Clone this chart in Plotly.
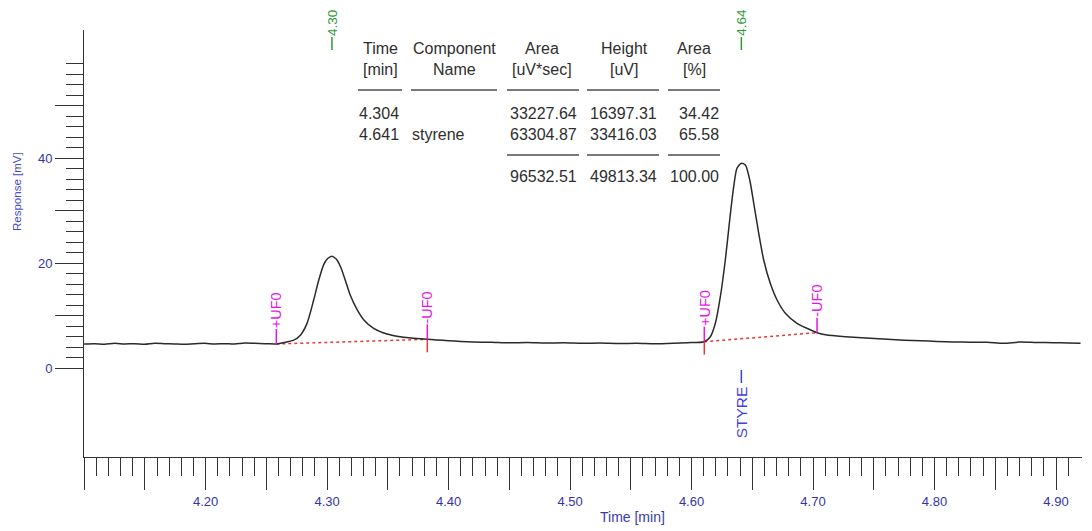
import numpy as np
import plotly.graph_objects as go

# ---- chromatogram trace: retention time [min] vs detector response [mV] ----
time_min = [
    4.1000, 4.1086, 4.1169, 4.1251, 4.1333, 4.1416, 4.1498, 4.1580, 4.1663, 4.1745,
    4.1827, 4.1909, 4.1992, 4.2074, 4.2156, 4.2239, 4.2321, 4.2403, 4.2486, 4.2568,
    4.2582, 4.2725, 4.2780, 4.2834, 4.2889, 4.2931, 4.2972, 4.3005,
    4.3077, 4.3114, 4.3150, 4.3191, 4.3246, 4.3301, 4.3383, 4.3493, 4.3630, 4.3825,
    4.3900, 4.4000, 4.4100, 4.4200, 4.4350, 4.4500, 4.4650, 4.4800, 4.4950, 4.5100,
    4.5250, 4.5400, 4.5550, 4.5700, 4.5850, 4.5963,
    4.6105, 4.6155, 4.6196, 4.6237, 4.6278, 4.6314, 4.6347, 4.6374,
    4.6443, 4.6479, 4.6512, 4.6553, 4.6594, 4.6648, 4.6704, 4.6772, 4.6868, 4.6950,
    4.7033, 4.7115, 4.7197, 4.7333, 4.7470, 4.7613, 4.7750, 4.7885, 4.8020, 4.8156,
    4.8300, 4.8436, 4.8568, 4.8708, 4.8840, 4.8979, 4.9100, 4.9202,
]
response_mv = [
    4.57, 4.63, 4.51, 4.70, 4.57, 4.63, 4.51, 4.70, 4.63, 4.57,
    4.51, 4.63, 4.70, 4.57, 4.63, 4.57, 4.76, 4.70, 4.63, 4.57,
    4.57, 5.30, 6.25, 8.45, 12.90, 16.70, 19.70, 20.85,
    20.70, 19.10, 16.70, 13.85, 11.15, 9.20, 7.56, 6.48, 5.85, 5.47,
    5.35, 5.20, 5.05, 4.95, 4.90, 4.80, 4.85, 4.75, 4.80, 4.70,
    4.75, 4.65, 4.70, 4.60, 4.70, 4.82,
    5.01, 5.96, 8.51, 13.58, 20.57, 28.19, 34.53, 38.04,
    38.67, 35.81, 31.37, 25.66, 20.57, 16.13, 12.95, 10.42, 8.51, 7.56,
    6.72, 6.29, 6.10, 5.85, 5.65, 5.47, 5.30, 5.20, 5.05, 4.95,
    4.92, 4.90, 4.70, 4.95, 4.85, 4.82, 4.75, 4.70,
]

# ---- integration events (peak start / end) ----
event_time = [4.2582, 4.3825, 4.6105, 4.7033]
event_mv = [4.57, 5.47, 5.01, 6.72]
event_label = ["+UF0", "-UF0", "+UF0", "-UF0"]
event_drop = [False, True, True, False]

# ---- peak report ----
peak_time = [4.304, 4.641]
peak_name = ["", "styrene"]
peak_area = [33227.64, 63304.87]      # uV*sec
peak_height = [16397.31, 33416.03]    # uV
peak_area_pct = [34.42, 65.58]        # %

# apex of each peak = integration baseline at the apex + reported height
apex_mv = []
for i, t in enumerate(peak_time):
    t0, t1 = event_time[2 * i], event_time[2 * i + 1]
    b0, b1 = event_mv[2 * i], event_mv[2 * i + 1]
    apex_mv.append(float(np.interp(t, [t0, t1], [b0, b1])) + peak_height[i] / 1000.0)

trace_t = np.array(time_min + peak_time)
trace_v = np.array(response_mv + apex_mv)
order = np.argsort(trace_t)
trace_t, trace_v = trace_t[order], trace_v[order]

# ---- page geometry ----
FIG_W, FIG_H = 1092, 531
L, R, T, B = 84, 10, 30, 74
W, H = FIG_W - L - R, FIG_H - T - B
X0, PX_PER_MIN = 4.0999, 1215.0
X1 = 4.10 + W / PX_PER_MIN
PX_PER_MV = 5.25
Y1 = 64.38
Y0 = Y1 - H / PX_PER_MV
MV_PER_PX = 1.0 / PX_PER_MV


def px_x(p):
    return (p - L) / W


def px_y(p):
    return 1 - (p - T) / H


FONT = "Liberation Sans, Arial, sans-serif"
AXIS_C = "#333333"
TICK_BLUE = "#3434a8"
MAGENTA = "#e614e6"
RED = "#e23a3a"
GREEN = "#2f9a3a"
BLUE = "#3c3cf0"
TABLE_C = "#2e2e2e"

fig = go.Figure()

# integration baselines
for i in range(len(peak_time)):
    fig.add_trace(go.Scatter(
        x=[event_time[2 * i], event_time[2 * i + 1]],
        y=[event_mv[2 * i], event_mv[2 * i + 1]],
        mode="lines", line=dict(color=RED, width=1.5, dash="dot"),
        hoverinfo="skip"))

# detector signal
fig.add_trace(go.Scatter(
    x=trace_t, y=trace_v, mode="lines",
    line=dict(color="#2a2a2a", width=1.5, shape="spline", smoothing=0.7)))

shapes = []
annotations = []

# integration event marks
up_len = 15 * MV_PER_PX
down_len = 13 * MV_PER_PX
for t, v, lab, drop in zip(event_time, event_mv, event_label, event_drop):
    shapes.append(dict(type="line", xref="x", yref="y", x0=t, x1=t, y0=v, y1=v + up_len,
                       line=dict(color=MAGENTA, width=1.5)))
    if drop:
        shapes.append(dict(type="line", xref="x", yref="y", x0=t, x1=t, y0=v, y1=v - down_len,
                           line=dict(color=RED, width=1.5)))
    annotations.append(dict(x=t, y=v + up_len, xref="x", yref="y", text=lab, textangle=-90,
                            showarrow=False, xanchor="center", yanchor="bottom",
                            borderpad=0, font=dict(family=FONT, size=14.5, color=MAGENTA)))

# retention time marks above the peaks
for t in peak_time:
    shapes.append(dict(type="line", xref="x", yref="paper", x0=t, x1=t,
                       y0=px_y(50), y1=px_y(37), line=dict(color=GREEN, width=1.5)))
    annotations.append(dict(x=t, y=px_y(37), xref="x", yref="paper", text=f"{t:.2f}",
                            textangle=-90, showarrow=False, xanchor="center", yanchor="bottom",
                            borderpad=0, font=dict(family=FONT, size=13.5, color=GREEN)))

# component name marks below the peaks
for t, name in zip(peak_time, peak_name):
    if not name:
        continue
    shapes.append(dict(type="line", xref="x", yref="y", x0=t, x1=t,
                       y0=-2 * MV_PER_PX, y1=-15 * MV_PER_PX, line=dict(color=BLUE, width=1.5)))
    annotations.append(dict(x=t, y=-17 * MV_PER_PX, xref="x", yref="y",
                            text=name.upper()[:5], textangle=-90, showarrow=False,
                            xanchor="center", yanchor="top", borderpad=0,
                            font=dict(family=FONT, size=15.5, color=BLUE)))

# ---- peak report table ----
TF = dict(family=FONT, size=16, color=TABLE_C)
headers = [("Time", "[min]", 380), ("Component", "Name", 454), ("Area", "[uV*sec]", 542),
           ("Height", "[uV]", 624), ("Area", "[%]", 694)]
for top, bottom, cx in headers:
    for txt, cy in ((top, 48.5), (bottom, 69.5)):
        annotations.append(dict(x=px_x(cx), y=px_y(cy), xref="paper", yref="paper", text=txt,
                                showarrow=False, xanchor="center", yanchor="middle",
                                font=TF))

rule_cols = [(358, 402), (411, 497), (507, 579), (587, 659), (668, 720)]
for x0, x1 in rule_cols:
    shapes.append(dict(type="line", xref="paper", yref="paper", x0=px_x(x0), x1=px_x(x1),
                       y0=px_y(90), y1=px_y(90), line=dict(color="#7a7a7a", width=2)))
for x0, x1 in rule_cols[2:]:
    shapes.append(dict(type="line", xref="paper", yref="paper", x0=px_x(x0), x1=px_x(x1),
                       y0=px_y(155), y1=px_y(155), line=dict(color="#7a7a7a", width=2)))

row_y = [113.5, 134.5]
for i in range(len(peak_time)):
    cy = px_y(row_y[i])
    annotations.append(dict(x=px_x(357), y=cy, xref="paper", yref="paper",
                            text=f"{peak_time[i]:.3f}", showarrow=False,
                            xanchor="left", yanchor="middle", font=TF))
    if peak_name[i]:
        annotations.append(dict(x=px_x(410), y=cy, xref="paper", yref="paper",
                                text=peak_name[i], showarrow=False,
                                xanchor="left", yanchor="middle", font=TF))
    for val, rx in ((peak_area[i], 579), (peak_height[i], 659), (peak_area_pct[i], 721)):
        annotations.append(dict(x=px_x(rx), y=cy, xref="paper", yref="paper",
                                text=f"{val:.2f}", showarrow=False,
                                xanchor="right", yanchor="middle", font=TF))

totals = [sum(peak_area), sum(peak_height), sum(peak_area_pct)]
for val, rx in zip(totals, (579, 659, 721)):
    annotations.append(dict(x=px_x(rx), y=px_y(176.5), xref="paper", yref="paper",
                            text=f"{val:.2f}", showarrow=False,
                            xanchor="right", yanchor="middle", font=TF))

# axis titles
annotations.append(dict(x=px_x(632), y=px_y(517), xref="paper", yref="paper",
                        text="Time [min]", showarrow=False, xanchor="center", yanchor="middle",
                        font=dict(family=FONT, size=14, color="#3a3aae")))
annotations.append(dict(x=px_x(17), y=px_y(192), xref="paper", yref="paper",
                        text="Response [mV]", textangle=-90, showarrow=False,
                        xanchor="center", yanchor="middle",
                        font=dict(family=FONT, size=11.5, color="#4a4acc")))

# ---- axes ----
x_major = [round(4.10 + 0.05 * i, 2) for i in range(17)]
x_text = [f"{v:.2f}" if (i % 2 == 0 and i > 0) else "" for i, v in enumerate(x_major)]
x_minor = [round(4.10 + 0.01 * i, 2) for i in range(82) if i % 5 != 0]

y_major = [0, 10, 20, 30, 40, 50]
y_text = ["0", "", "20", "", "40", ""]
y_minor = [v for v in range(2, 59, 2) if v % 10 != 0]

fig.update_layout(
    width=FIG_W, height=FIG_H,
    margin=dict(l=L, r=R, t=T, b=B, pad=0),
    paper_bgcolor="white", plot_bgcolor="white",
    showlegend=False,
    shapes=shapes, annotations=annotations,
    xaxis=dict(
        range=[X0, X1], showgrid=False, zeroline=False,
        showline=True, linecolor=AXIS_C, linewidth=1,
        ticks="outside", tickmode="array", tickvals=x_major, ticktext=x_text,
        ticklen=32, tickwidth=1, tickcolor=AXIS_C,
        tickfont=dict(family=FONT, size=13, color=TICK_BLUE),
        minor=dict(tickmode="array", tickvals=x_minor, ticks="outside",
                   ticklen=18, tickwidth=1, tickcolor=AXIS_C, showgrid=False),
    ),
    yaxis=dict(
        range=[Y0, Y1], showgrid=False, zeroline=False,
        showline=True, linecolor=AXIS_C, linewidth=1,
        ticks="outside", tickmode="array", tickvals=y_major, ticktext=y_text,
        ticklen=28, tickwidth=1, tickcolor=AXIS_C,
        tickfont=dict(family=FONT, size=13, color=TICK_BLUE),
        minor=dict(tickmode="array", tickvals=y_minor, ticks="outside",
                   ticklen=17, tickwidth=1, tickcolor=AXIS_C, showgrid=False),
    ),
)

fig.write_html("out.html")
